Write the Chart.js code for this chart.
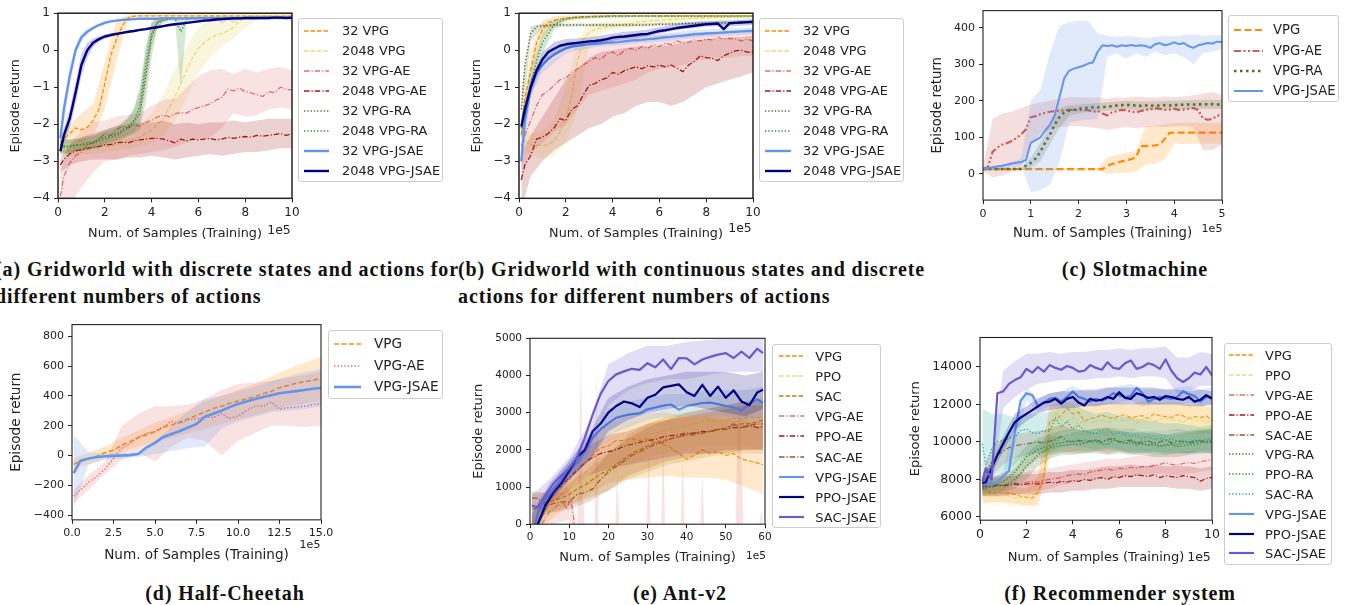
<!DOCTYPE html>
<html>
<head>
<meta charset="utf-8">
<script src="https://cdn.jsdelivr.net/npm/chart.js@4.4.0/dist/chart.umd.min.js"></script>
<style>
  body { margin: 0; width: 1349px; height: 605px; background: #fff; position: relative; overflow: hidden; font-family: "DejaVu Sans", sans-serif; color: #222; }
  canvas { position: absolute; }
  .legend { position: absolute; box-sizing: border-box; border: 1px solid #ccc; border-radius: 3px; background: rgba(255,255,255,0.85); }
  .legend .txt { position: absolute; white-space: nowrap; line-height: 1; transform: translateY(-50%); color: #222; }
  .legend svg { position: absolute; overflow: visible; }
  .cap { position: absolute; font-family: "Liberation Serif", serif; font-weight: bold; font-size: 20px; letter-spacing: 0.9px; white-space: nowrap; line-height: 1; color: #111; }
  .exp { position: absolute; white-space: nowrap; line-height: 1; transform: translate(-50%, -50%); color: #222; }
</style>
</head>
<body>

<div class="cap" style="left:-5px;top:259px;width:458px;text-align:justify;text-align-last:justify;">(a) Gridworld with discrete states and actions for</div>
<div class="cap" style="left:-5px;top:286px;">different numbers of actions</div>
<div class="cap" style="left:458px;top:259px;width:458px;text-align:justify;text-align-last:justify;">(b) Gridworld with continuous states and discrete</div>
<div class="cap" style="left:458px;top:286px;">actions for different numbers of actions</div>
<div class="cap" style="left:1135px;top:259px;transform:translateX(-50%);">(c) Slotmachine</div>
<div class="cap" style="left:225px;top:583px;transform:translateX(-50%);">(d) Half-Cheetah</div>
<div class="cap" style="left:680px;top:583px;transform:translateX(-50%);">(e) Ant-v2</div>
<div class="cap" style="left:1120px;top:583px;transform:translateX(-50%);">(f) Recommender system</div>

<script>
// ---------- tick labels ----------
const ticksGridX = [0, 2, 4, 6, 8, 10];
const ticksGridY = [-4, -3, -2, -1, 0, 1];
const ticksSlotX = [0, 1, 2, 3, 4, 5];
const ticksSlotY = [0, 100, 200, 300, 400];
const ticksCheetahX = [0, 2.5, 5, 7.5, 10, 12.5, 15];
const ticksCheetahY = [-400, -200, 0, 200, 400, 600, 800];
const ticksAntX = [0, 10, 20, 30, 40, 50, 60];
const ticksAntY = [0, 1000, 2000, 3000, 4000, 5000];
const ticksRecX = [0, 2, 4, 6, 8, 10];
const ticksRecY = [6000, 8000, 10000, 12000, 14000];

// ---------- sample grids ----------
const gridQ = [0.1,0.25,0.5,0.75,1,1.25,1.5,1.75,2,2.25,2.5,2.75,3,3.25,3.5,3.75,4,4.25,4.5,4.75,5,5.25,5.5,5.75,6,6.25,6.5,6.75,7,7.25,7.5,7.75,8,8.25,8.5,8.75,9,9.25,9.5,9.75,10];
const gridH = [0.1,0.5,1,1.5,2,2.5,3,3.5,4,4.5,5,5.5,6,6.5,7,7.5,8,8.5,9,9.5,10];

// ---------- (a) gridworld, discrete ----------
const aVpg32 = [-2.5,-2.4,-2.25,-2.1,-2.15,-2.08,-1.9,-1.6,-0.9,-0.15,
  0.3,0.66,0.88,0.92,0.93,0.93,0.93,0.93,0.93,0.93,
  0.93,0.93,0.93,0.93,0.93,0.93,0.93,0.93,0.93,0.93,
  0.93,0.93,0.93,0.93,0.93,0.93,0.93,0.93,0.93,0.93, 0.93];
const aVpg32Lo = [-2.7,-2.5,-2.5,-2.3,-1.6,-0.3,0.8,0.9,0.91,0.91,0.91,0.91,0.91,0.91,0.91,0.91,0.91,0.91,0.91,0.91,0.91];
const aVpg32Hi = [-2.3,-2.0,-1.7,-1.45,-0.3,0.8,0.95,0.96,0.96,0.96,0.96,0.96,0.96,0.96,0.96,0.96,0.96,0.96,0.96,0.96,0.96];
const aVpg2048 = [-2.75,-2.72,-2.7,-2.68,-2.66,-2.65,-2.63,-2.62,-2.6,-2.57,
  -2.55,-2.5,-2.45,-2.4,-2.35,-2.25,-2.15,-2.0,-1.85,-1.55,
  -1.25,-0.9,-0.55,-0.2,0.05,0.2,0.32,0.4,0.45,0.52,
  0.62,0.78,0.88,0.92,0.93,0.93,0.93,0.93,0.93,0.93, 0.93];
const aVpg2048Lo = [-2.85,-2.85,-2.8,-2.8,-2.75,-2.7,-2.65,-2.6,-2.5,-2.3,-1.9,-1.3,-0.6,-0.2,0.1,0.3,0.6,0.85,0.9,0.9,0.9];
const aVpg2048Hi = [-2.6,-2.55,-2.5,-2.45,-2.4,-2.3,-2.2,-2.0,-1.7,-1.2,-0.5,0.1,0.6,0.85,0.9,0.95,0.97,0.97,0.97,0.97,0.97];
const aAe32 = [-3.95,-3.4,-3.05,-2.85,-2.75,-2.55,-2.5,-2.4,-2.25,-2.3,
  -2.15,-2.05,-2.1,-2.0,-2.05,-1.95,-1.9,-1.8,-1.75,-1.8,
  -1.72,-1.68,-1.7,-1.6,-1.55,-1.5,-1.45,-1.35,-1.28,-1.05,
  -1.1,-1.02,-1.12,-1.15,-1.2,-1.25,-1.12,-1.15,-1.0,-1.05, -1.08];
const aAe32Lo = [-4.5,-4.2,-3.7,-3.3,-3.0,-2.95,-2.85,-2.8,-2.75,-2.7,-2.6,-2.5,-2.4,-2.35,-2.1,-1.7,-1.8,-1.75,-1.6,-1.55,-1.6];
const aAe32Hi = [-3.3,-2.5,-2.2,-1.95,-1.9,-1.8,-1.75,-1.7,-1.5,-1.35,-1.3,-1.0,-0.7,-0.55,-0.5,-0.65,-0.5,-0.6,-0.5,-0.45,-0.55];
const aAe2048 = [-3.1,-2.95,-2.8,-2.72,-2.68,-2.65,-2.62,-2.6,-2.55,-2.55,
  -2.5,-2.48,-2.5,-2.45,-2.42,-2.4,-2.38,-2.38,-2.4,-2.45,
  -2.5,-2.4,-2.45,-2.4,-2.42,-2.4,-2.38,-2.42,-2.4,-2.35,
  -2.38,-2.35,-2.33,-2.35,-2.3,-2.32,-2.3,-2.28,-2.25,-2.3, -2.25];
const aAe2048Lo = [-3.3,-3.1,-3.0,-2.95,-2.95,-2.95,-2.9,-2.9,-2.85,-2.9,-2.95,-2.9,-2.85,-2.8,-2.85,-2.8,-2.75,-2.75,-2.7,-2.65,-2.65];
const aAe2048Hi = [-2.9,-2.55,-2.35,-2.25,-2.15,-2.05,-2.0,-1.95,-1.95,-1.9,-2.0,-1.95,-2.0,-1.95,-1.95,-1.9,-1.95,-1.9,-1.85,-1.85,-1.85];
const aRa32 = [-2.55,-2.58,-2.6,-2.58,-2.55,-2.55,-2.5,-2.45,-2.4,-2.35,
  -2.3,-2.2,-2.1,-1.95,-1.7,-0.7,0.35,0.75,0.84,0.86,
  0.86,0.86,0.87,0.87,0.87,0.87,0.87,0.87,0.88,0.88,
  0.88,0.88,0.88,0.88,0.88,0.88,0.88,0.88,0.88,0.88, 0.88];
const aRa32Lo = [-2.75,-2.78,-2.78,-2.75,-2.72,-2.7,-2.66,-2.62,-2.58,-2.52,
  -2.48,-2.4,-2.32,-2.25,-2.15,-1.4,-0.2,0.6,0.78,0.82,
  0.82,0.82,0.83,0.83,0.83,0.83,0.83,0.83,0.84,0.84,
  0.84,0.84,0.84,0.84,0.84,0.84,0.84,0.84,0.84,0.84, 0.84];
const aRa32Hi = [-2.35,-2.38,-2.42,-2.4,-2.38,-2.38,-2.32,-2.27,-2.2,-2.15,
  -2.1,-1.98,-1.85,-1.6,-1.1,0.0,0.75,0.88,0.9,0.9,
  0.9,0.9,0.91,0.91,0.91,0.91,0.91,0.91,0.92,0.92,
  0.92,0.92,0.92,0.92,0.92,0.92,0.92,0.92,0.92,0.92, 0.92];
const aRa2048 = [-2.6,-2.62,-2.6,-2.55,-2.55,-2.5,-2.48,-2.4,-2.35,-2.3,
  -2.25,-2.15,-2.05,-1.9,-1.5,-0.4,0.45,0.75,0.8,0.84,
  0.85,0.5,0.84,0.86,0.87,0.88,0.88,0.88,0.88,0.88,
  0.88,0.88,0.88,0.88,0.88,0.88,0.88,0.88,0.88,0.88, 0.88];
const aRa2048Lo = [-2.8,-2.8,-2.78,-2.72,-2.72,-2.68,-2.65,-2.58,-2.52,-2.48,
  -2.42,-2.35,-2.28,-2.2,-1.95,-1.0,0.1,0.62,0.72,0.78,
  0.8,-1.0,0.78,0.82,0.84,0.85,0.85,0.85,0.85,0.85,
  0.85,0.85,0.85,0.85,0.85,0.85,0.85,0.85,0.85,0.85, 0.85];
const aRa2048Hi = [-2.4,-2.42,-2.42,-2.38,-2.38,-2.32,-2.3,-2.22,-2.16,-2.1,
  -2.05,-1.95,-1.8,-1.55,-1.0,0.1,0.75,0.86,0.88,0.9,
  0.9,0.85,0.9,0.9,0.9,0.91,0.91,0.91,0.91,0.91,
  0.91,0.91,0.91,0.91,0.91,0.91,0.91,0.91,0.91,0.91, 0.91];
const aJs32 = [-2.38,-1.6,-0.7,0.0,0.35,0.5,0.6,0.68,0.74,0.78,
  0.8,0.82,0.83,0.84,0.85,0.85,0.85,0.85,0.86,0.86,
  0.86,0.86,0.86,0.86,0.86,0.86,0.86,0.86,0.86,0.86,
  0.86,0.86,0.86,0.86,0.86,0.87,0.87,0.87,0.87,0.87, 0.87];
const aJs32Lo = [-2.6,-2.0,-0.95,-0.15,0.25,0.43,0.55,0.64,0.7,0.75,
  0.77,0.79,0.8,0.81,0.82,0.82,0.82,0.82,0.83,0.83,
  0.83,0.83,0.83,0.83,0.83,0.83,0.83,0.83,0.7,0.83,
  0.72,0.84,0.84,0.84,0.84,0.84,0.84,0.84,0.84,0.84, 0.84];
const aJs32Hi = [-2.2,-1.4,-0.45,0.15,0.45,0.57,0.65,0.72,0.78,0.81,
  0.83,0.85,0.86,0.87,0.88,0.89,0.89,0.89,0.89,0.89,
  0.89,0.89,0.89,0.89,0.89,0.89,0.89,0.89,0.89,0.89,
  0.89,0.89,0.89,0.89,0.89,0.89,0.89,0.89,0.89,0.89, 0.89];
const aJs2048 = [-2.73,-2.3,-1.85,-1.15,-0.4,0.0,0.2,0.3,0.37,0.41,
  0.44,0.47,0.5,0.52,0.55,0.57,0.6,0.62,0.65,0.68,
  0.7,0.72,0.74,0.76,0.78,0.8,0.81,0.83,0.84,0.85,
  0.86,0.86,0.87,0.87,0.87,0.87,0.87,0.88,0.88,0.87, 0.88];
const aJs2048Lo = [-2.85,-2.5,-2.1,-1.45,-0.7,-0.2,0.08,0.22,0.31,0.36,
  0.4,0.44,0.47,0.49,0.52,0.54,0.57,0.59,0.62,0.65,
  0.67,0.69,0.71,0.73,0.75,0.77,0.78,0.8,0.81,0.82,
  0.83,0.83,0.84,0.84,0.84,0.84,0.84,0.85,0.85,0.84, 0.85];
const aJs2048Hi = [-2.6,-2.1,-1.6,-0.85,-0.1,0.2,0.32,0.38,0.43,0.46,
  0.48,0.5,0.53,0.55,0.58,0.6,0.63,0.65,0.68,0.71,
  0.73,0.75,0.77,0.79,0.81,0.83,0.84,0.86,0.87,0.88,
  0.89,0.89,0.9,0.9,0.9,0.9,0.9,0.91,0.91,0.9, 0.91];

// ---------- (b) gridworld, continuous ----------
const bVpg32 = [-2.3,-1.3,-0.55,0.2,0.55,0.75,0.8,0.84,0.86,0.88,
  0.9,0.91,0.91,0.92,0.92,0.93,0.93,0.93,0.93,0.93,
  0.93,0.93,0.93,0.93,0.93,0.93,0.93,0.93,0.93,0.93,
  0.93,0.93,0.93,0.93,0.93,0.93,0.93,0.93,0.93,0.93, 0.93];
const bVpg32Lo = [-2.6,-1.1,0.3,0.68,0.8,0.84,0.86,0.88,0.89,0.9,0.9,0.9,0.9,0.9,0.9,0.9,0.9,0.9,0.9,0.9,0.9];
const bVpg32Hi = [-2.0,0.0,0.8,0.92,0.94,0.95,0.96,0.96,0.96,0.96,0.96,0.96,0.96,0.96,0.96,0.96,0.96,0.96,0.96,0.96,0.96];
const bVpg2048 = [-2.3,-2.45,-2.55,-2.57,-2.57,-2.55,-2.45,-2.2,-1.85,-1.25,
  -0.3,0.3,0.47,0.57,0.6,0.63,0.65,0.67,0.7,0.72,
  0.75,0.77,0.79,0.8,0.81,0.82,0.83,0.84,0.85,0.86,
  0.86,0.87,0.87,0.88,0.88,0.89,0.89,0.9,0.9,0.9, 0.9];
const bVpg2048Lo = [-2.6,-2.85,-2.92,-2.85,-2.5,-1.6,0.2,0.45,0.55,0.6,0.65,0.7,0.72,0.75,0.78,0.8,0.82,0.83,0.84,0.85,0.85];
const bVpg2048Hi = [-2.0,-2.25,-2.2,-1.9,-1.0,0.3,0.7,0.75,0.78,0.82,0.85,0.88,0.9,0.92,0.93,0.94,0.95,0.95,0.95,0.95,0.95];
const bAe32 = [-2.6,-2.3,-1.9,-1.5,-1.2,-1.1,-0.95,-0.8,-0.75,-0.6,
  -0.5,-0.4,-0.3,-0.2,-0.25,-0.1,-0.05,-0.15,0.0,0.05,
  0.0,0.1,0.05,0.15,0.1,0.2,0.15,0.25,0.2,0.22,
  0.28,0.25,0.3,0.28,0.35,0.3,0.32,0.3,0.25,0.3, 0.25];
const bAe32Lo = [-3.3,-2.8,-2.5,-2.2,-2.0,-1.6,-1.2,-1.1,-1.0,-0.9,-0.8,-0.6,-0.5,-0.45,-0.4,-0.3,-0.25,-0.2,-0.2,-0.15,-0.15];
const bAe32Hi = [-1.9,-1.2,-0.5,-0.2,0.0,0.1,0.2,0.25,0.3,0.35,0.38,0.4,0.42,0.45,0.45,0.48,0.5,0.5,0.5,0.5,0.5];
const bAe2048 = [-3.5,-3.1,-2.85,-2.4,-2.35,-2.25,-2.1,-1.85,-1.9,-1.6,
  -1.5,-1.2,-0.95,-0.9,-0.8,-0.75,-0.6,-0.65,-0.55,-0.5,
  -0.45,-0.5,-0.42,-0.45,-0.4,-0.45,-0.4,-0.48,-0.58,-0.4,
  -0.3,-0.15,-0.2,-0.22,-0.28,-0.15,-0.08,-0.02,0.0,-0.05, -0.05];
const bAe2048Lo = [-4.3,-3.4,-3.0,-2.7,-2.5,-2.3,-2.1,-2.0,-1.8,-1.7,-1.5,-1.4,-1.4,-1.5,-1.4,-1.2,-1.0,-0.9,-0.8,-0.7,-0.6];
const bAe2048Hi = [-2.8,-2.3,-1.8,-1.3,-0.8,-0.5,-0.2,-0.05,0.0,0.05,0.1,0.1,0.1,0.15,0.2,0.25,0.3,0.3,0.35,0.35,0.4];
const bRa32 = [-1.6,-0.4,0.45,0.64,0.66,0.67,0.68,0.68,0.68,0.68,
  0.68,0.68,0.68,0.68,0.68,0.68,0.68,0.68,0.68,0.68,
  0.68,0.68,0.68,0.69,0.7,0.7,0.71,0.71,0.72,0.72,
  0.72,0.73,0.73,0.73,0.74,0.74,0.74,0.75,0.75,0.75, 0.75];
const bRa32Lo = [-2.1,0.25,0.6,0.63,0.64,0.64,0.64,0.64,0.64,0.64,0.64,0.65,0.66,0.67,0.68,0.68,0.69,0.69,0.7,0.7,0.7];
const bRa32Hi = [-1.1,0.65,0.72,0.72,0.72,0.72,0.72,0.72,0.72,0.72,0.72,0.73,0.74,0.75,0.76,0.77,0.78,0.78,0.79,0.8,0.8];
const bRa2048 = [-2.1,-1.6,-0.9,-0.3,0.2,0.45,0.68,0.78,0.84,0.87,
  0.88,0.89,0.9,0.9,0.91,0.91,0.92,0.92,0.92,0.92,
  0.92,0.92,0.92,0.92,0.92,0.92,0.92,0.92,0.92,0.92,
  0.92,0.92,0.92,0.92,0.92,0.92,0.92,0.92,0.92,0.92, 0.92];
const bRa2048Lo = [-2.4,-1.3,-0.1,0.55,0.78,0.84,0.86,0.87,0.88,0.88,0.89,0.89,0.89,0.89,0.89,0.89,0.89,0.89,0.89,0.89,0.89];
const bRa2048Hi = [-1.8,-0.5,0.45,0.85,0.9,0.92,0.93,0.94,0.95,0.95,0.95,0.95,0.95,0.95,0.95,0.95,0.95,0.95,0.95,0.95,0.95];
const bJs32 = [-3.0,-1.9,-1.0,-0.6,-0.4,-0.23,-0.12,-0.03,0.05,0.1,
  0.12,0.14,0.16,0.17,0.18,0.2,0.21,0.22,0.24,0.26,
  0.27,0.28,0.3,0.31,0.33,0.35,0.36,0.38,0.39,0.41,
  0.43,0.44,0.45,0.46,0.47,0.48,0.49,0.5,0.51,0.52, 0.52];
const bJs32Lo = [-3.2,-1.25,-0.6,-0.35,-0.1,0.0,0.05,0.1,0.12,0.15,0.18,0.2,0.23,0.26,0.3,0.33,0.36,0.38,0.4,0.42,0.44];
const bJs32Hi = [-2.8,-0.75,-0.2,0.05,0.15,0.22,0.26,0.3,0.33,0.36,0.38,0.42,0.45,0.48,0.52,0.55,0.57,0.58,0.6,0.61,0.62];
const bJs2048 = [-2.06,-1.6,-1.0,-0.55,-0.25,-0.05,0.04,0.12,0.16,0.18,
  0.2,0.22,0.24,0.25,0.27,0.3,0.34,0.36,0.37,0.39,
  0.41,0.43,0.44,0.48,0.52,0.54,0.57,0.6,0.62,0.64,
  0.66,0.68,0.7,0.71,0.72,0.57,0.73,0.74,0.75,0.76, 0.77];
const bJs2048Lo = [-2.3,-1.2,-0.45,-0.15,0.02,0.1,0.15,0.18,0.25,0.3,0.33,0.38,0.45,0.52,0.57,0.6,0.64,0.65,0.64,0.66,0.68];
const bJs2048Hi = [-1.8,-0.8,-0.05,0.22,0.3,0.32,0.35,0.4,0.45,0.5,0.52,0.56,0.62,0.68,0.73,0.76,0.78,0.8,0.8,0.82,0.84];

// ---------- (c) slot machine ----------
const gridC = [0,0.1,0.2,0.3,0.4,0.5,0.6,0.7,0.8,0.9,1,1.1,1.2,1.3,1.4,1.5,1.6,1.7,1.8,1.9,2,2.1,2.2,2.3,2.4,2.5,2.6,2.7,2.8,2.9,3,3.1,3.2,3.3,3.4,3.5,3.6,3.7,3.8,3.9,4,4.1,4.2,4.3,4.4,4.5,4.6,4.7,4.8,4.9,5];
const gridCB = [0,0.2,0.4,0.6,0.8,1,1.2,1.4,1.6,1.8,2,2.2,2.4,2.6,2.8,3,3.2,3.4,3.6,3.8,4,4.2,4.4,4.6,4.8,5];
const cVpg = [13,13,13,13,13,13,13,13,13,13,
  13,13,13,13,13,13,13,13,13,13,
  13,13,13,13,13,13,22,27,30,34,
  37,40,45,76,76,77,78,80,95,112,
  113,113,113,113,113,113,113,113,113,113, 113];
const cVpgLo = [10,10,10,10,10,10,10,10,10,10,10,10,10,0,2,3,5,25,28,40,82,82,82,82,82,82];
const cVpgHi = [16,16,16,16,16,16,16,16,16,16,16,16,16,45,52,58,62,130,132,135,140,140,140,140,140,140];
const cAe = [13,18,60,72,80,84,90,98,108,122,
  155,158,163,167,170,172,173,174,175,175,
  174,175,174,170,172,165,160,168,172,175,
  174,170,168,172,175,177,180,178,175,176,
  178,175,176,178,180,175,152,148,150,160, 158];
const cAeLo = [8,-10,-5,5,20,80,110,122,128,130,130,128,125,120,125,128,125,128,130,128,130,130,128,65,65,80];
const cAeHi = [18,150,165,170,180,190,195,200,205,210,210,208,210,205,210,208,212,210,208,212,210,212,215,220,225,215];
const cRa = [13,13,13,13,13,13,13,13,14,22,
  30,42,60,85,107,135,155,168,173,175,
  178,180,181,182,182,183,184,185,187,188,
  189,188,187,186,187,187,186,187,188,187,
  188,189,189,190,190,190,191,190,191,190, 189];
const cRaLo = [10,10,10,10,10,15,35,80,125,158,165,170,170,172,175,176,175,175,174,175,176,177,178,178,178,177];
const cRaHi = [16,16,16,16,16,45,85,135,180,188,190,192,194,196,198,200,199,198,199,200,200,201,202,203,203,202];
const cJs = [13,15,18,20,22,25,28,30,32,38,
  85,92,100,118,135,160,210,262,282,288,
  292,296,302,305,335,352,350,352,348,352,
  350,353,350,352,350,345,355,358,352,355,
  360,355,358,350,345,352,355,358,357,362, 361];
const cJsLo = [10,12,14,18,22,-50,-45,-30,30,140,145,148,150,320,330,315,330,320,335,325,330,320,300,330,335,340];
const cJsHi = [16,22,26,32,42,200,230,330,405,415,420,418,385,378,375,378,375,372,375,378,376,380,382,378,380,380];

// ---------- (d) half-cheetah ----------
const gridD = [0.1,0.5,1,1.5,2,2.5,3,3.5,4,4.5,5,5.5,6,6.5,7,7.5,8,8.5,9,9.5,10,10.5,11,11.5,12,12.5,13,13.5,14,14.5,15];
const gridDB = [0.1,1,2,3,4,5,6,7,8,9,10,11,12,13,14,15];
const dVpg = [-58,-40,-20,-5,20,35,70,95,120,140,
  160,190,205,225,245,270,290,315,330,350,
  365,380,395,415,430,455,470,485,495,505, 516];
const dVpgLo = [-90,-60,-20,20,60,90,120,150,180,210,240,270,300,330,350,370];
const dVpgHi = [-20,20,60,120,170,220,260,300,360,400,440,480,530,580,620,660];
const dAe = [-273,-230,-180,-140,-90,-20,50,80,125,150,
  160,195,230,215,240,245,260,255,280,250,
  265,300,330,330,360,310,320,325,330,340, 350];
const dAeLo = [-320,-230,-120,-30,20,-40,60,120,100,0,100,150,200,200,190,200];
const dAeHi = [-230,-130,-40,200,280,330,330,340,380,440,480,490,500,520,540,560];
const dJs = [-118,-35,-20,-10,-5,-2,0,3,10,55,
  85,125,145,165,188,212,260,280,300,325,
  345,362,378,392,405,418,425,432,440,448, 453];
const dJsLo = [-350,-60,-30,-20,-10,10,30,50,60,180,230,260,290,300,310,330];
const dJsHi = [140,20,15,15,20,80,200,300,380,400,430,460,500,530,560,580];

// ---------- (e) Ant-v2 ----------
const gridE = [0.5,2,4,6,8,10,12,14,16,18,20,22,24,26,28,30,32,34,36,38,40,42,44,46,48,50,52,54,56,58,59.5];
const gridEB = [0.5,5,10,15,20,25,30,35,40,45,50,55,59.5];
const eVpg = [-600,-200,450,800,1000,1200,1450,1650,1850,2050,2100,2250,2250,2300,2250,2300,2200,2150,2050,1900,1750,1850,2000,1900,1950,1850,1900,1750,1700,1650,1600];
const eVpgLo = [-200,100,500,800,1100,1200,1250,1300,1250,1250,1200,1000,800];
const eVpgHi = [200,800,1600,2200,2700,2900,3000,3000,2900,2900,2800,2800,2600];
const ePpo = [-400,-100,350,600,800,1000,1250,1400,1600,1800,1900,2050,2150,2200,2300,2400,2450,2500,2550,2600,2650,2700,2750,2800,2780,2800,2850,2820,2900,2850,2900];
const ePpoLo = [-200,200,600,1000,1300,1600,1800,1900,2000,2100,2100,2100,2000];
const ePpoHi = [100,700,1400,1900,2400,2700,2900,3100,3300,3400,3500,3600,3700];
const eSac = [400,450,550,650,700,800,950,1050,1200,1350,1450,1600,1750,1900,2000,2100,2200,2250,2300,2350,2400,2450,2480,2500,2550,2600,2650,2700,2700,2750,2800];
const eSacLo = [0,300,500,700,900,1200,1400,1600,1700,1800,1900,1900,1900];
const eSacHi = [800,900,1100,1500,1900,2400,2700,2900,3000,3100,3200,3300,3400];
const eAeX = [3,5,7,8.5,9.3,10,10.5,11,11.5,12.5];
const eVpgAe = [0,350,500,590,410,590,650,280,-100,-800];
const eAeBX = [3,6,9,10,11,11.5,12,12.6,13,13.4,14,16.5,17,17.5,18,21.8,22.3,22.8,29.8,30.3,30.8,33.5,34,34.5,38.5,39,39.5,43.5,44,44.5,52.5,53.2,53.8,54.5,58.5,59,59.5];
const eVpgAeLo = [-300,0,100,100,-300,-1000,-1000,-1000,-1000,-1000,-1000,-1000,-1000,-1000,-1000,-1000,-1000,-1000,-1000,-1000,-1000,-1000,-1000,-1000,-1000,-1000,-1000,-1000,-1000,-1000,-1000,-1000,-1000,-1000,-1000,-1000,-1000];
const eVpgAeHi = [400,800,1000,1000,500,0,-100,2000,4700,1000,-100,-100,4300,-100,-100,-100,1500,-100,-100,2000,-100,-100,2300,-100,-100,1800,-100,-100,1400,-100,-100,3500,2500,-100,-100,400,-100];
const ePpoAe = [-300,300,650,850,1050,1250,1450,1650,1800,1900,1950,2000,2100,2150,2200,2250,2280,2350,2380,2400,2450,2450,2500,2480,2550,2550,2600,2600,2650,2600,2620];
const ePpoAeLo = [-200,500,900,1300,1500,1600,1700,1800,1900,1900,2000,2000,2000];
const ePpoAeHi = [300,1000,1600,2100,2400,2500,2700,2800,2900,3000,3100,3200,3200];
const eSacAe = [700,700,500,550,600,600,800,850,950,1200,1400,1550,1700,1850,1950,2050,2150,2200,2300,2350,2400,2400,2450,2500,2550,2550,2700,2600,2650,2700,2700];
const eSacAeLo = [400,300,400,600,900,1300,1500,1700,1800,1900,1900,2000,2000];
const eSacAeHi = [900,800,900,1300,1900,2300,2600,2800,3000,3100,3200,3300,3300];
const eVpgJs = [-500,300,700,950,1200,1430,1650,1950,2330,2550,2720,2860,2920,2960,2980,3090,3140,3190,3220,3080,3180,3220,3260,3270,3230,3180,3140,3060,3230,3360,3260];
const eVpgJsLo = [-500,600,1200,1700,2400,2600,2800,2900,2900,2900,2900,2800,2900];
const eVpgJsHi = [300,1000,1700,2300,3100,3300,3400,3500,3500,3600,3600,3600,3700];
const ePpoJs = [-800,0,520,850,1100,1420,1800,2000,2500,2700,3000,3180,3300,3250,3150,3400,3480,3680,3720,3760,3550,3450,3750,3450,3700,3400,3600,3300,3200,3540,3620];
const ePpoJsLo = [-500,600,1200,1700,2500,2800,3000,3100,3200,3100,3000,2900,3100];
const ePpoJsHi = [300,1100,1700,2400,3400,3700,3900,4000,4100,4100,4100,4000,4100];
const eSacJs = [500,450,780,1100,1300,1500,1800,2330,2950,3500,3850,4030,4110,4180,4150,4330,4220,4430,4170,4470,4460,4300,4430,4500,4560,4600,4470,4640,4470,4720,4600];
const eSacJsLo = [300,700,1200,1900,3200,3600,3800,3900,3900,4000,4100,4100,4100];
const eSacJsHi = [800,1200,1800,2700,4300,4600,4800,4800,4900,4950,5000,5100,5100];

// ---------- (f) recommender system ----------
const fVpg = [7400,7500,7200,7300,7250,7280,7200,7100,7050,7000,
  7300,8100,11100,11200,11400,11800,11500,11600,11100,11250,
  11300,11450,11300,11250,11400,11450,11300,11350,11400,11250,
  11500,11400,11350,11300,11450,11400,11250,11350,11300,11400, 11150];
const fVpgLo = [6700,6800,6800,6700,6600,6600,9500,10500,10600,10500,10600,10600,10700,10600,10700,10600,10600,10600,10600,10500,10400];
const fVpgHi = [7900,7700,7700,7600,7500,8200,12000,12200,12100,12000,12100,12100,12100,12000,12200,12100,12100,12100,12000,12000,11800];
const fPpo = [7300,7200,7100,7150,7250,7100,7000,7050,7100,7150,
  7300,7900,10200,11600,11200,11100,11300,10900,11200,11000,
  11100,11200,11000,11150,11200,11100,11300,11000,11200,11300,
  11100,11200,11300,11150,11200,11050,11250,11100,11200,11000, 11200];
const fPpoLo = [6900,6600,6700,6500,6600,6700,9000,10300,10400,10300,10400,10300,10500,10400,10500,10400,10500,10400,10400,10400,10500];
const fPpoHi = [7700,7500,7600,7400,7500,8100,11800,12200,12000,11900,11900,11800,12000,11900,12000,12100,12000,12000,12000,11900,12000];
const fVpgAe = [7700,7650,7700,7750,7700,7750,7800,7750,7850,7900,
  7850,7950,8000,8050,8100,8200,8250,8300,8250,8400,
  8450,8500,8550,8500,8600,8550,8650,8600,8700,8650,
  8750,8800,8900,8800,8750,8850,8900,8850,8950,9000, 9050];
const fVpgAeLo = [7300,7200,7200,7200,7300,7400,7500,7700,7800,8000,8000,8100,8100,8200,8200,8300,8300,8200,8300,8400,8500];
const fVpgAeHi = [8200,8200,8200,8300,8400,8500,8600,8700,8800,8900,9000,9100,9100,9200,9300,9300,9400,9400,9500,9500,9600];
const fPpoAe = [7600,7650,7600,7700,7650,7700,7750,7700,7750,7800,
  7750,7800,7850,7800,7900,7850,7950,7900,8000,7950,
  8050,8100,8000,8150,8100,8200,8150,8250,8200,8150,
  8250,8100,8200,8150,8100,8200,8150,8100,7900,8050, 8100];
const fPpoAeLo = [7100,7100,7100,7200,7200,7200,7300,7300,7400,7400,7500,7500,7600,7600,7600,7600,7600,7500,7500,7400,7500];
const fPpoAeHi = [8100,8100,8200,8200,8300,8300,8400,8400,8500,8500,8600,8700,8700,8800,8700,8800,8700,8700,8700,8600,8700];
const fSacAe = [7800,8300,8900,9300,9500,9700,9800,9850,9900,9950,
  10000,9950,10050,10100,10300,10050,10000,10100,9950,10050,
  10100,10000,10100,10200,10000,10050,10100,9950,10000,10050,
  9950,10000,10100,9950,10000,10050,9950,10000,10050,9950, 10000];
const fSacAeLo = [7400,8200,8800,9100,9300,9400,9400,9500,9400,9400,9500,9400,9500,9400,9400,9500,9400,9400,9400,9500,9400];
const fSacAeHi = [8200,9600,10200,10400,10500,10600,10700,10900,10700,10600,10700,10800,10700,10700,10600,10600,10600,10700,10600,10600,10600];
const fVpgRa = [7500,7550,7600,7650,7700,7800,8000,8300,8700,9000,
  9300,9500,9700,9750,9800,9850,9900,9850,9950,10000,
  10000,9900,9850,10100,10050,9900,9950,9850,9900,9800,
  9850,9750,9800,9850,9750,9800,9850,9900,9950,10000, 10050];
const fVpgRaLo = [7100,7200,7300,7500,8000,8700,9100,9300,9300,9400,9400,9300,9400,9300,9300,9200,9200,9200,9300,9400,9400];
const fVpgRaHi = [7900,8000,8100,8600,9400,9900,10300,10300,10500,10600,10500,10600,10600,10500,10500,10400,10400,10400,10500,10600,10700];
const fPpoRa = [7600,7550,7650,7700,7900,8100,8400,8800,9200,9400,
  9600,9700,9800,9900,9950,10000,10050,10000,10100,10050,
  10100,10000,10150,10200,10000,9950,10050,9950,9900,9850,
  9950,9800,9850,9900,9850,9950,10000,10050,10100,10050, 10150];
const fPpoRaLo = [7200,7300,7400,7800,8600,9100,9300,9400,9500,9500,9500,9600,9500,9400,9400,9300,9300,9400,9400,9500,9600];
const fPpoRaHi = [8000,8100,8400,9100,9800,10200,10400,10600,10700,10600,10700,10700,10600,10500,10500,10500,10400,10500,10600,10700,10700];
const fSacRa = [9900,8800,9600,10000,10100,10200,10300,10600,10700,10500,
  10450,10600,10550,11300,10800,11100,10700,10900,10600,10500,
  10450,10600,10700,10400,10500,10400,10300,10350,10200,10300,
  10150,10200,10100,10150,10050,10100,10000,10100,10050,10150, 10200];
const fSacRaLo = [8000,8100,8500,8800,9300,9400,9500,9700,9800,9700,9600,9700,9600,9500,9500,9400,9400,9400,9400,9400,9400];
const fSacRaHi = [11800,11500,11500,11300,11500,11500,11600,11900,12000,11700,11500,11600,11400,11300,11200,11100,11000,11000,10900,10800,10900];
const fVpgJs = [7800,7750,7800,7850,8200,8450,10500,12200,12600,12500,
  11900,12100,12300,12350,12150,12400,12700,12400,12300,12150,
  12300,12200,12350,12600,12500,12400,12450,12900,12600,12150,
  12300,12400,12350,12300,12400,12700,12550,12450,12150,12400, 12400];
const fVpgJsLo = [7600,7600,7900,9800,12200,11600,11900,11900,12000,11900,11900,12000,12100,12200,11900,12000,12000,12000,12100,11900,12000];
const fVpgJsHi = [8000,8000,8500,11200,12900,12300,12600,12700,13000,12700,12700,12900,13000,13100,12800,12800,12800,12900,13000,12800,12900];
const fPpoJs = [7800,7850,8600,9300,9900,10500,11050,11300,11500,11700,
  11900,12100,12150,12300,12050,12300,12400,12100,11950,12300,
  12200,12250,12400,12300,12650,12350,12300,12600,12500,12350,
  12400,12250,12450,12400,12300,12250,12400,12150,12250,12500, 12300];
const fPpoJsLo = [7600,8300,9500,10600,11100,11500,11700,11800,11800,11900,11900,12000,12000,12000,12000,12000,12000,12000,11900,11900,12000];
const fPpoJsHi = [8000,8900,10300,11500,11900,12300,12600,12700,12700,12800,12800,12900,12900,12900,12900,12900,12800,12800,12700,12800,12700];
const fSacJs = [7900,8600,8000,12600,12700,13100,13300,13450,13900,13700,
  14000,13750,14100,13950,13850,14050,13950,13750,13800,14100,
  13950,13850,14250,13950,13900,14200,14350,13900,14000,14200,
  14100,13900,14400,13800,13400,13200,13400,13700,13600,14000, 13550];
const fSacJsLo = [7500,7600,11800,12400,12800,13100,13200,13300,13300,13300,13400,13400,13500,13400,13500,13500,13400,12600,12700,13000,13000];
const fSacJsHi = [8300,9000,13800,14300,14700,14700,14800,14700,14800,14800,14900,14900,15000,14900,15000,15000,15100,14500,14500,14800,14700];

// ---------- styles ----------
const C = {
  orange: '#ff8c00', khaki: '#eadb7c', gold: '#b8860b',
  aeLight: '#df6f6f', aeDark: '#a01818', sienna: '#a0522d', indian: '#cd5c5c',
  olive: '#556b2f', green: '#2e8b2e', teal: '#20a8a2',
  cblue: '#6495ed', navy: '#000080', slate: '#6a5acd'
};
const DASH = [4.5, 2], DASHDOT = [5.5, 2, 1.2, 2], DOT = [1.3, 2];

function S(label, color, dash, width, x, y, bx, lo, hi, alpha) {
  return {label, color, dash, width, x, y, bx, lo, hi, alpha: alpha || 0.2};
}

const seriesA = [
  S('32 VPG', C.orange, DASH, 1.3, gridQ, aVpg32, gridH, aVpg32Lo, aVpg32Hi),
  S('2048 VPG', C.khaki, DASH, 1.3, gridQ, aVpg2048, gridH, aVpg2048Lo, aVpg2048Hi, 0.25),
  S('32 VPG-AE', C.aeLight, DASHDOT, 1.3, gridQ, aAe32, gridH, aAe32Lo, aAe32Hi),
  S('2048 VPG-AE', C.aeDark, DASHDOT, 1.3, gridQ, aAe2048, gridH, aAe2048Lo, aAe2048Hi),
  S('32 VPG-RA', C.olive, DOT, 1.4, gridQ, aRa32, gridQ, aRa32Lo, aRa32Hi),
  S('2048 VPG-RA', C.green, DOT, 1.4, gridQ, aRa2048, gridQ, aRa2048Lo, aRa2048Hi),
  S('32 VPG-JSAE', C.cblue, [], 2.4, gridQ, aJs32, gridQ, aJs32Lo, aJs32Hi),
  S('2048 VPG-JSAE', C.navy, [], 2.4, gridQ, aJs2048, gridQ, aJs2048Lo, aJs2048Hi)
];
const seriesB = [
  S('32 VPG', C.orange, DASH, 1.3, gridQ, bVpg32, gridH, bVpg32Lo, bVpg32Hi),
  S('2048 VPG', C.khaki, DASH, 1.3, gridQ, bVpg2048, gridH, bVpg2048Lo, bVpg2048Hi, 0.25),
  S('32 VPG-AE', C.aeLight, DASHDOT, 1.3, gridQ, bAe32, gridH, bAe32Lo, bAe32Hi),
  S('2048 VPG-AE', C.aeDark, DASHDOT, 1.3, gridQ, bAe2048, gridH, bAe2048Lo, bAe2048Hi),
  S('32 VPG-RA', C.olive, DOT, 1.4, gridQ, bRa32, gridH, bRa32Lo, bRa32Hi),
  S('2048 VPG-RA', C.green, DOT, 1.4, gridQ, bRa2048, gridH, bRa2048Lo, bRa2048Hi),
  S('32 VPG-JSAE', C.cblue, [], 2.4, gridQ, bJs32, gridH, bJs32Lo, bJs32Hi),
  S('2048 VPG-JSAE', C.navy, [], 2.4, gridQ, bJs2048, gridH, bJs2048Lo, bJs2048Hi)
];
const seriesC = [
  S('VPG', C.orange, [7, 3.5], 2.2, gridC, cVpg, gridCB, cVpgLo, cVpgHi),
  S('VPG-AE', C.indian, [7, 2.5, 2, 2.5, 2, 2.5], 2.2, gridC, cAe, gridCB, cAeLo, cAeHi),
  S('VPG-RA', C.olive, [2.5, 3.5], 2.6, gridC, cRa, gridCB, cRaLo, cRaHi),
  S('VPG-JSAE', C.cblue, [], 2, gridC, cJs, gridCB, cJsLo, cJsHi)
];
const seriesD = [
  S('VPG', C.orange, [5, 2.5], 1.6, gridD, dVpg, gridDB, dVpgLo, dVpgHi),
  S('VPG-AE', C.aeLight, [1.4, 2], 1.5, gridD, dAe, gridDB, dAeLo, dAeHi),
  S('VPG-JSAE', C.cblue, [], 2.6, gridD, dJs, gridDB, dJsLo, dJsHi)
];
const seriesE = [
  S('VPG', C.orange, DASH, 1.2, gridE, eVpg, gridEB, eVpgLo, eVpgHi),
  S('PPO', C.khaki, DASH, 1.2, gridE, ePpo, gridEB, ePpoLo, ePpoHi),
  S('SAC', C.gold, DASH, 1.2, gridE, eSac, gridEB, eSacLo, eSacHi),
  S('VPG-AE', C.aeLight, DASHDOT, 1.2, eAeX, eVpgAe, eAeBX, eVpgAeLo, eVpgAeHi),
  S('PPO-AE', C.aeDark, DASHDOT, 1.2, gridE, ePpoAe, gridEB, ePpoAeLo, ePpoAeHi),
  S('SAC-AE', C.sienna, DASHDOT, 1.2, gridE, eSacAe, gridEB, eSacAeLo, eSacAeHi),
  S('VPG-JSAE', C.cblue, [], 2.2, gridE, eVpgJs, gridEB, eVpgJsLo, eVpgJsHi),
  S('PPO-JSAE', C.navy, [], 2.2, gridE, ePpoJs, gridEB, ePpoJsLo, ePpoJsHi),
  S('SAC-JSAE', C.slate, [], 2.2, gridE, eSacJs, gridEB, eSacJsLo, eSacJsHi)
];
const seriesF = [
  S('VPG', C.orange, DASH, 1.2, gridQ, fVpg, gridH, fVpgLo, fVpgHi),
  S('PPO', C.khaki, DASH, 1.2, gridQ, fPpo, gridH, fPpoLo, fPpoHi),
  S('VPG-AE', C.aeLight, DASHDOT, 1.2, gridQ, fVpgAe, gridH, fVpgAeLo, fVpgAeHi),
  S('PPO-AE', C.aeDark, DASHDOT, 1.2, gridQ, fPpoAe, gridH, fPpoAeLo, fPpoAeHi),
  S('SAC-AE', C.sienna, DASHDOT, 1.2, gridQ, fSacAe, gridH, fSacAeLo, fSacAeHi),
  S('VPG-RA', C.olive, DOT, 1.3, gridQ, fVpgRa, gridH, fVpgRaLo, fVpgRaHi),
  S('PPO-RA', C.green, DOT, 1.3, gridQ, fPpoRa, gridH, fPpoRaLo, fPpoRaHi),
  S('SAC-RA', C.teal, DOT, 1.3, gridQ, fSacRa, gridH, fSacRaLo, fSacRaHi),
  S('VPG-JSAE', C.cblue, [], 2.2, gridQ, fVpgJs, gridH, fVpgJsLo, fVpgJsHi),
  S('PPO-JSAE', C.navy, [], 2.2, gridQ, fPpoJs, gridH, fPpoJsLo, fPpoJsHi),
  S('SAC-JSAE', C.slate, [], 2.2, gridQ, fSacJs, gridH, fSacJsLo, fSacJsHi)
];

// panel layout (page pixels)
const panels = [
  {series: seriesA, plotL: 58, plotT: 12, plotW: 234, plotH: 186, x: [0, 10, ticksGridX, 0], y: [-4, 1, ticksGridY, 0],
   tick: 12, title: 12.8, yTitleX: 16, xTitleY: 233, frame: 1.5, exp: [279, 230, 12.4],
   legend: {x: 298, y: 18, w: 145, h: 164, first: 12, step: 20, lx1: 5, lx2: 30, tx: 43, font: 12.9}},
  {series: seriesB, plotL: 519, plotT: 12, plotW: 234, plotH: 186, x: [0, 10, ticksGridX, 0], y: [-4, 1, ticksGridY, 0],
   tick: 12, title: 12.8, yTitleX: 477, xTitleY: 233, frame: 1.5, exp: [740, 228, 12.4],
   legend: {x: 759, y: 18, w: 145, h: 164, first: 12, step: 20, lx1: 5, lx2: 31, tx: 43, font: 12.9}},
  {series: seriesC, plotL: 983, plotT: 10, plotW: 239, plotH: 190, x: [0, 5, ticksSlotX, 0], y: [-72, 447, ticksSlotY, 0],
   tick: 11, title: 13.2, yTitleX: 938, xTitleY: 233, frame: 1.1, exp: [1212, 228, 11],
   legend: {x: 1228, y: 15, w: 111, h: 87, first: 14.3, step: 20.2, lx1: 5, lx2: 34, tx: 44, font: 13.2}},
  {series: seriesD, plotL: 72, plotT: 324, plotW: 249, plotH: 196, x: [0, 15, ticksCheetahX, 1], y: [-431, 878, ticksCheetahY, 0],
   tick: 11, title: 13.6, yTitleX: 16, xTitleY: 556, frame: 1.1, exp: [310, 544, 11],
   legend: {x: 328, y: 330, w: 115, h: 69, first: 13.3, step: 21.2, lx1: 5, lx2: 32, tx: 45, font: 13.6}},
  {series: seriesE, plotL: 530, plotT: 338, plotW: 235, plotH: 186, x: [0, 60, ticksAntX, 0], y: [0, 5000, ticksAntY, 0],
   tick: 10.5, title: 13, yTitleX: 479, xTitleY: 557, frame: 1.1, exp: [756, 555, 10.5],
   legend: {x: 772, y: 344, w: 109, h: 184, first: 11, step: 20.1, lx1: 5.7, lx2: 30.7, tx: 42.3, font: 13}},
  {series: seriesF, plotL: 980, plotT: 336, plotW: 232, plotH: 184, x: [0, 10, ticksRecX, 0], y: [5825, 15573, ticksRecY, 0],
   tick: 12.5, title: 13, yTitleX: 916, xTitleY: 557, frame: 1.1, exp: [1199, 556.7, 12.5],
   legend: {x: 1224, y: 343, w: 108, h: 222, first: 11.3, step: 19.8, lx1: 4, lx2: 29, tx: 40, font: 13}}
];

// ---------- helpers ----------
function rgba(hex, a) {
  const n = parseInt(hex.slice(1), 16);
  return `rgba(${(n >> 16) & 255},${(n >> 8) & 255},${n & 255},${a})`;
}
function pts(xs, ys) {
  return ys.map((y, i) => ({x: xs[i], y}));
}
function tickFmt(dec) {
  return v => (v < 0 ? '\u2212' : '') + Math.abs(v).toFixed(dec);
}

function buildDatasets(series) {
  const out = [];
  for (const s of series) {
    if (s.lo) {
      out.push({data: pts(s.bx, s.lo), borderColor: 'rgba(0,0,0,0)', borderWidth: 0, pointRadius: 0, fill: false});
      out.push({data: pts(s.bx, s.hi), borderColor: 'rgba(0,0,0,0)', borderWidth: 0, pointRadius: 0,
                fill: '-1', backgroundColor: rgba(s.color, s.alpha)});
    }
    out.push({label: s.label, data: pts(s.x, s.y), borderColor: s.color, borderWidth: s.width,
              borderDash: s.dash, borderJoinStyle: 'round', pointRadius: 0, fill: false});
  }
  // later series paint on top, like the plotting order of the original
  out.forEach((d, i) => { d.order = out.length - i; d.tension = 0; });
  return out;
}

const framePlugin = {
  id: 'frame',
  afterDatasetsDraw(chart, args, opts) {
    const {ctx, chartArea: a} = chart;
    ctx.save();
    ctx.strokeStyle = '#222';
    ctx.lineWidth = opts.width || 1.1;
    ctx.strokeRect(a.left, a.top, a.right - a.left, a.bottom - a.top);
    ctx.restore();
  }
};
Chart.register(framePlugin);
Chart.defaults.font.family = 'DejaVu Sans';

function addLegend(p) {
  const L = p.legend;
  const box = document.createElement('div');
  box.className = 'legend';
  Object.assign(box.style, {left: L.x + 'px', top: L.y + 'px', width: L.w + 'px', height: L.h + 'px'});
  p.series.forEach((s, i) => {
    const cy = L.first + i * L.step;
    const len = L.lx2 - L.lx1;
    const svg = document.createElementNS('http://www.w3.org/2000/svg', 'svg');
    svg.setAttribute('width', len);
    svg.setAttribute('height', 8);
    svg.style.left = L.lx1 + 'px';
    svg.style.top = (cy - 4) + 'px';
    const ln = document.createElementNS('http://www.w3.org/2000/svg', 'line');
    ln.setAttribute('x1', 0); ln.setAttribute('x2', len);
    ln.setAttribute('y1', 4); ln.setAttribute('y2', 4);
    ln.setAttribute('stroke', s.color);
    ln.setAttribute('stroke-width', Math.max(s.width, 1.4));
    if (s.dash.length) ln.setAttribute('stroke-dasharray', s.dash.join(' '));
    svg.appendChild(ln);
    box.appendChild(svg);
    const t = document.createElement('div');
    t.className = 'txt';
    t.textContent = s.label;
    Object.assign(t.style, {left: L.tx + 'px', top: cy + 'px', fontSize: L.font + 'px'});
    box.appendChild(t);
  });
  document.body.appendChild(box);
}

function mount(p) {
  const padTop = 10, padRight = 16;
  const lh = p.title * 1.2;
  const left = Math.round(p.yTitleX - lh / 2);
  const yW = p.plotL - left;
  const xH = p.xTitleY - (p.plotT + p.plotH) + lh / 2 + 2;
  const cv = document.createElement('canvas');
  cv.width = yW + p.plotW + padRight;
  cv.height = Math.round(padTop + p.plotH + xH);
  cv.style.left = left + 'px';
  cv.style.top = (p.plotT - padTop) + 'px';
  document.body.appendChild(cv);

  const tickFont = {family: 'DejaVu Sans', size: p.tick};
  const titleFont = {family: 'DejaVu Sans', size: p.title};
  const grid = {drawOnChartArea: false, drawTicks: true, tickLength: 4, color: '#222', tickWidth: 1};
  const fixTicks = list => s => { s.ticks = list.map(v => ({value: v})); };

  new Chart(cv.getContext('2d'), {
    type: 'line',
    data: {datasets: buildDatasets(p.series)},
    options: {
      responsive: false, animation: false, devicePixelRatio: 1,
      layout: {padding: {top: padTop, right: padRight, left: 0, bottom: 0}},
      plugins: {legend: {display: false}, tooltip: {enabled: false}, frame: {width: p.frame}},
      scales: {
        x: {
          type: 'linear', min: p.x[0], max: p.x[1],
          afterBuildTicks: fixTicks(p.x[2]),
          afterFit(s) { s.height = xH; },
          ticks: {autoSkip: false, maxRotation: 0, padding: 3, color: '#222', font: tickFont, callback: tickFmt(p.x[3])},
          grid, border: {display: false},
          title: {display: true, text: 'Num. of Samples (Training)', color: '#222', font: titleFont,
                  padding: {top: 0, bottom: 2}}
        },
        y: {
          type: 'linear', min: p.y[0], max: p.y[1],
          afterBuildTicks: fixTicks(p.y[2]),
          afterFit(s) { s.width = yW; },
          ticks: {autoSkip: false, padding: 4, color: '#222', font: tickFont, callback: tickFmt(p.y[3])},
          grid, border: {display: false},
          title: {display: true, text: 'Episode return', color: '#222', font: titleFont,
                  padding: {top: 0, bottom: 0}}
        }
      }
    }
  });

  const e = document.createElement('div');
  e.className = 'exp';
  e.textContent = '1e5';
  Object.assign(e.style, {left: p.exp[0] + 'px', top: p.exp[1] + 'px', fontSize: p.exp[2] + 'px'});
  document.body.appendChild(e);

  addLegend(p);
}

panels.forEach(mount);
</script>
</body>
</html>
